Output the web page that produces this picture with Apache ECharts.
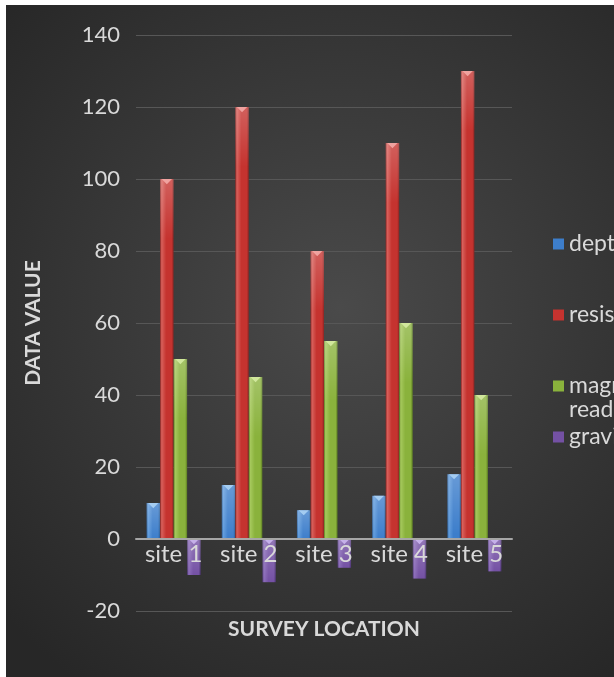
<!DOCTYPE html>
<html>
<head>
<meta charset="utf-8">
<script src="https://cdn.jsdelivr.net/npm/echarts@6/dist/echarts.min.js"></script>
<style>
  html, body { margin: 0; padding: 0; background: #ffffff; }
  #chart { position: absolute; left: 6px; top: 5px; width: 608px; height: 672px; }
</style>
</head>
<body>
<div id="chart"></div>
<script>
// Survey readings per location
const categories = ['site 1', 'site 2', 'site 3', 'site 4', 'site 5'];
const depth = [10, 15, 8, 12, 18];
const resistivity = [100, 120, 80, 110, 130];
const magnetic = [50, 45, 55, 60, 40];
const gravity = [-10, -12, -8, -11, -9];
const seriesNames = ['depth (m)', 'resistivity (ohm-m)', 'magnetic reading', 'gravity anomaly'];
const yTicks = { min: -20, max: 140, step: 20 };

// [edge, body, highlight, bevel tip]
const palettes = [
  ['#2a5c96', '#3d7ecb', '#609cdd', '#abd1f4'],
  ['#8a2422', '#c5332f', '#d8605b', '#f3aaa6'],
  ['#5c7c22', '#8ab23c', '#a5c85c', '#d6eba2'],
  ['#4a3370', '#7451a4', '#8b6cb9', '#cbb7ee']
];

const FONT = 'Lato, "Open Sans", sans-serif';
const TEXT = '#d9d9d9';
const GROUP_RATIO = 0.72;
const GRID = { left: 130, right: 102, top: 30, bottom: 66 };

function bevelBar(k) {
  const pal = palettes[k];
  return function (params, api) {
    const cat = api.value(0);
    const v = api.value(1);
    const base = api.coord([cat, 0]);
    const tip = api.coord([cat, v]);
    const band = api.size([1, 0])[0];
    const gw = band * GROUP_RATIO;
    const w = gw / 4;
    const x = base[0] - gw / 2 + k * w;
    const y0 = Math.min(base[1], tip[1]);
    const h = Math.abs(tip[1] - base[1]);
    const fill = new echarts.graphic.LinearGradient(0, 0, 1, 0, [
      { offset: 0, color: pal[0] },
      { offset: 0.12, color: pal[2] },
      { offset: 0.45, color: pal[1] },
      { offset: 0.85, color: pal[1] },
      { offset: 1, color: pal[0] }
    ]);
    const sheen = new echarts.graphic.LinearGradient(0, 0, 0, 1, [
      { offset: 0, color: 'rgba(255,255,255,0.22)' },
      { offset: 1, color: 'rgba(255,255,255,0)' }
    ]);
    const sheenH = Math.min(h, 60);
    return {
      type: 'group',
      children: [
        { type: 'rect', shape: { x: x, y: y0, width: w, height: h }, style: { fill: fill } },
        { type: 'rect', shape: { x: x, y: y0, width: w, height: sheenH }, style: { fill: sheen } },
        {
          type: 'polygon',
          shape: { points: [[x + w * 0.12, y0], [x + w * 0.88, y0], [x + w * 0.5, y0 + w * 0.38]] },
          style: { fill: pal[3], opacity: 0.9 }
        }
      ]
    };
  };
}

const seriesData = [depth, resistivity, magnetic, gravity];

const chart = echarts.init(document.getElementById('chart'), null, { renderer: 'canvas' });

// one legend block per series so each entry sits at its own height
const legendTops = [227, 298, 345, 420];
const legends = seriesNames.map(function (name, k) {
  const lg = {
    orient: 'vertical',
    left: 547,
    top: legendTops[k],
    padding: 0,
    data: [{ name: name, icon: 'rect' }],
    itemWidth: 11,
    itemHeight: 11,
    itemGap: 0,
    selectedMode: false,
    textStyle: { color: TEXT, fontSize: 23, fontFamily: FONT, lineHeight: 24 }
  };
  if (k === 2) {
    // blank first line keeps the swatch level with "magnetic"
    lg.formatter = function () { return ' \nmagnetic\nreading'; };
  }
  return lg;
});

// zero line sits 20 units above the bottom of the plot
const zeroOffset = -(672 - GRID.top - GRID.bottom) * (0 - yTicks.min) / (yTicks.max - yTicks.min);

const option = {
  backgroundColor: new echarts.graphic.RadialGradient(0.55, 0.45, 0.75, [
    { offset: 0, color: '#4a4a4a' },
    { offset: 1, color: '#272727' }
  ]),
  animation: false,
  legend: legends,
  grid: {
    left: GRID.left, right: GRID.right, top: GRID.top, bottom: GRID.bottom,
    containLabel: false, outerBoundsMode: 'none'
  },
  xAxis: {
    type: 'category',
    data: categories,
    position: 'bottom',
    offset: zeroOffset,
    z: 10,
    axisLine: { onZero: false, lineStyle: { color: '#a6a6a6', width: 2 } },
    axisTick: { show: false },
    axisLabel: { color: TEXT, fontSize: 24, fontFamily: FONT, margin: 3 },
    name: 'SURVEY LOCATION',
    nameLocation: 'middle',
    nameGap: 80,
    nameTextStyle: { color: TEXT, fontSize: 21, fontWeight: 'bold', fontFamily: FONT }
  },
  yAxis: {
    type: 'value',
    min: yTicks.min,
    max: yTicks.max,
    interval: yTicks.step,
    axisLine: { show: false },
    axisTick: { show: false },
    splitLine: { lineStyle: { color: '#575757', width: 1 } },
    axisLabel: { color: TEXT, fontSize: 22, fontFamily: FONT, margin: 16 },
    name: 'DATA VALUE',
    nameLocation: 'middle',
    nameGap: 92,
    nameRotate: 90,
    nameTextStyle: { color: TEXT, fontSize: 21, fontWeight: 'bold', fontFamily: FONT }
  },
  series: seriesNames.map(function (name, k) {
    return {
      name: name,
      type: 'custom',
      renderItem: bevelBar(k),
      itemStyle: { color: palettes[k][1] },
      encode: { x: 0, y: 1 },
      data: seriesData[k].map(function (v, i) { return [i, v]; }),
      z: 2
    };
  })
};

chart.setOption(option);
</script>
</body>
</html>
